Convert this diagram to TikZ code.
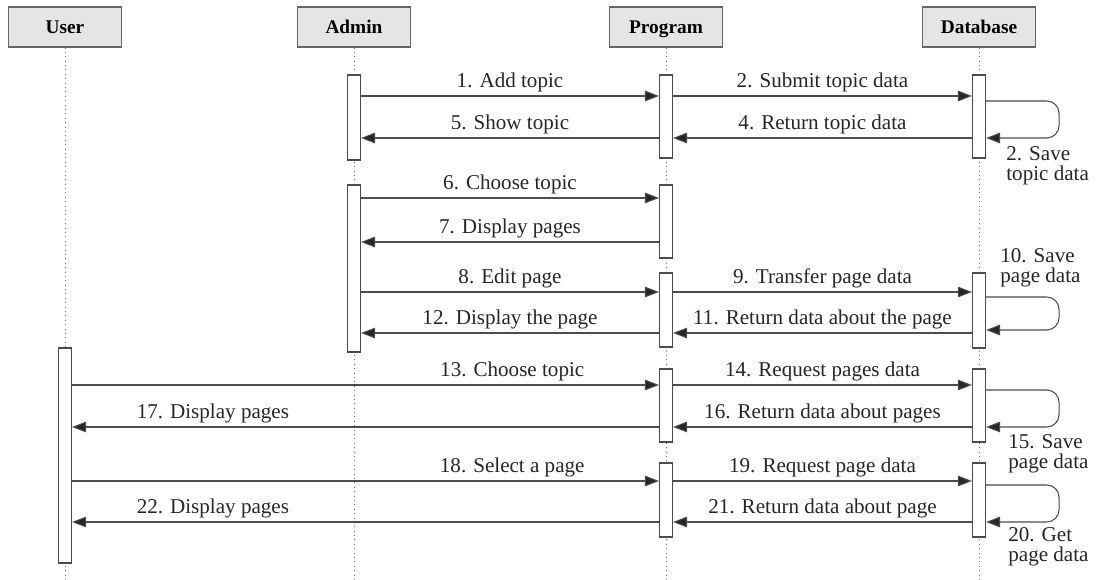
\documentclass[tikz,border=0pt]{standalone}
\usepackage{fontspec}
\setmainfont{Liberation Serif}
\usetikzlibrary{arrows.meta,fit}

\begin{document}
\begin{tikzpicture}[x=0.02cm,y=-0.02cm,
  head/.style={draw=black!60, fill=black!10, line width=0.6pt, minimum width=2.26cm, minimum height=0.8cm, text height=1.6ex, text depth=0ex, font=\fontsize{11}{13}\selectfont\bfseries},
  life/.style={draw=black!55, dotted, line width=0.5pt},
  act/.style={draw=black!70, fill=white, line width=0.6pt, inner sep=0pt},
  msg/.style={draw=black!70, line width=0.6pt, -{Triangle[length=8pt,width=6pt,fill=black!85]}},
  lbl/.style={font=\fontsize{12}{14}\selectfont, inner sep=2pt, text=black!85},
  note/.style={font=\fontsize{12}{11.5}\selectfont, align=left, inner sep=0pt, text=black!85}]

\useasboundingbox (0,0) rectangle (1096,580);

% Lifeline heads
\node[head] (user) at (65,27) {User};
\node[head] (admin) at (354,27) {Admin};
\node[head] (prog) at (666,27) {Program};
\node[head] (dbase) at (979,27) {Database};

% Bottom ends of the lifelines
\coordinate (userEnd) at (65,580);
\coordinate (adminEnd) at (354,580);
\coordinate (progEnd) at (666,580);
\coordinate (dbaseEnd) at (979,580);

% Draw the lifelines
\draw[life] (user) -- (userEnd);
\draw[life] (admin) -- (adminEnd);
\draw[life] (prog) -- (progEnd);
\draw[life] (dbase) -- (dbaseEnd);

% Activation boxes
\node[act, fit={(58.5,348) (71.5,563)}] (userA) {};
\node[act, fit={(347.5,75) (360.5,160)}] (admA) {};
\node[act, fit={(347.5,185) (360.5,352)}] (admB) {};
\node[act, fit={(659.5,75) (672.5,158)}] (prgA) {};
\node[act, fit={(659.5,185) (672.5,258)}] (prgB) {};
\node[act, fit={(659.5,273) (672.5,347)}] (prgC) {};
\node[act, fit={(659.5,369) (672.5,442)}] (prgD) {};
\node[act, fit={(659.5,463) (672.5,537)}] (prgE) {};
\node[act, fit={(972.5,75) (985.5,158)}] (dbsA) {};
\node[act, fit={(972.5,273) (985.5,348)}] (dbsB) {};
\node[act, fit={(972.5,369) (985.5,442)}] (dbsC) {};
\node[act, fit={(972.5,463) (985.5,537)}] (dbsD) {};

% Add topic
\draw[msg] (admA.east |- 0,96) -- (prgA.west |- 0,96) node[lbl, midway, above] {1. Add topic};
\draw[msg] (prgA.east |- 0,96) -- (dbsA.west |- 0,96) node[lbl, midway, above] {2. Submit topic data};
\draw[msg, rounded corners=7] (dbsA.east |- 0,101) -- ++(73,0) -- ++(0,37) -- (dbsA.east |- 0,138);
\node[note, anchor=north west] (n2) at (1006,146) {2. Save\\topic data};
\draw[msg] (dbsA.west |- 0,138) -- (prgA.east |- 0,138) node[lbl, midway, above] {4. Return topic data};
\draw[msg] (prgA.west |- 0,138) -- (admA.east |- 0,138) node[lbl, midway, above] {5. Show topic};

% Choose and edit a page
\draw[msg] (admB.east |- 0,198) -- (prgB.west |- 0,198) node[lbl, midway, above] {6. Choose topic};
\draw[msg] (prgB.west |- 0,242) -- (admB.east |- 0,242) node[lbl, midway, above] {7. Display pages};
\draw[msg] (admB.east |- 0,292) -- (prgC.west |- 0,292) node[lbl, midway, above] {8. Edit page};
\draw[msg] (prgC.east |- 0,292) -- (dbsB.west |- 0,292) node[lbl, midway, above] {9. Transfer page data};
\draw[msg, rounded corners=7] (dbsB.east |- 0,297) -- ++(73,0) -- ++(0,33) -- (dbsB.east |- 0,330);
\node[note, anchor=north west] (n10) at (1000,248) {10. Save\\page data};
\draw[msg] (dbsB.west |- 0,333) -- (prgC.east |- 0,333) node[lbl, midway, above] {11. Return data about the page};
\draw[msg] (prgC.west |- 0,333) -- (admB.east |- 0,333) node[lbl, midway, above] {12. Display the page};

% User chooses a topic
\draw[msg] (userA.east |- 0,385) -- (prgD.west |- 0,385) node[lbl, pos=0.75, above] {13. Choose topic};
\draw[msg] (prgD.east |- 0,385) -- (dbsC.west |- 0,385) node[lbl, midway, above] {14. Request pages data};
\draw[msg, rounded corners=7] (dbsC.east |- 0,390) -- ++(73,0) -- ++(0,37) -- (dbsC.east |- 0,427);
\node[note, anchor=north west] (n15) at (1008,434) {15. Save\\page data};
\draw[msg] (dbsC.west |- 0,427) -- (prgD.east |- 0,427) node[lbl, midway, above] {16. Return data about pages};
\draw[msg] (prgD.west |- 0,427) -- (userA.east |- 0,427) node[lbl, pos=0.76, above] {17. Display pages};

% User selects a page
\draw[msg] (userA.east |- 0,481) -- (prgE.west |- 0,481) node[lbl, pos=0.75, above] {18. Select a page};
\draw[msg] (prgE.east |- 0,481) -- (dbsD.west |- 0,481) node[lbl, midway, above] {19. Request page data};
\draw[msg, rounded corners=7] (dbsD.east |- 0,485) -- ++(73,0) -- ++(0,37) -- (dbsD.east |- 0,522);
\node[note, anchor=north west] (n20) at (1008,527) {20. Get\\page data};
\draw[msg] (dbsD.west |- 0,522) -- (prgE.east |- 0,522) node[lbl, midway, above] {21. Return data about page};
\draw[msg] (prgE.west |- 0,522) -- (userA.east |- 0,522) node[lbl, pos=0.76, above] {22. Display pages};

\end{tikzpicture}
\end{document}
